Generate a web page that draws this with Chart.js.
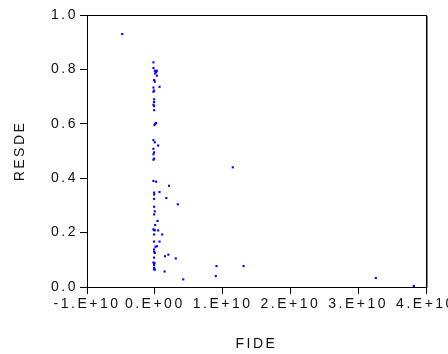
<!DOCTYPE html>
<html>
<head>
<meta charset="utf-8">
<script src="https://cdn.jsdelivr.net/npm/chart.js@4"></script>
<style>
  html, body { margin: 0; padding: 0; background: #fff; overflow: hidden; }
  #wrap { width: 448px; height: 354px; }
</style>
</head>
<body>
<div id="wrap"><canvas id="scatterChart" width="448" height="354"></canvas></div>
<script>
// FIDE vs RESDE scatter
const fide = [
  -0.48e10,
  -0.02e10, -0.02e10, 0.00e10, 0.02e10, 0.005e10, 0.03e10, 0.03e10, -0.01e10, 0.00e10, 0.07e10,
  -0.02e10, -0.01e10, -0.02e10, -0.01e10, -0.01e10, -0.02e10, -0.01e10, -0.01e10,
  0.005e10, 0.02e10, -0.005e10,
  -0.02e10, 0.00e10, 0.05e10, -0.02e10, -0.01e10, -0.02e10, -0.01e10, -0.02e10,
  1.15e10,
  -0.02e10, 0.02e10, 0.21e10, 0.07e10, -0.01e10, -0.01e10, 0.17e10, -0.01e10, 0.34e10,
  -0.01e10, 0.00e10, -0.01e10, 0.04e10, 0.005e10,
  -0.02e10, -0.01e10, 0.00e10, 0.05e10, 0.11e10, -0.01e10, -0.01e10, 0.07e10,
  0.03e10, 0.01e10, -0.01e10, -0.01e10, 0.00e10, 0.20e10, 0.15e10, 0.31e10, -0.01e10,
  -0.02e10, -0.01e10, -0.01e10, -0.005e10, -0.01e10, -0.01e10, 0.00e10,
  0.145e10, 0.42e10, 0.91e10, 0.90e10, 1.31e10, 3.26e10, 3.82e10
];
const resde = [
  0.930,
  0.826, 0.805, 0.795, 0.790, 0.785, 0.795, 0.777, 0.761, 0.755, 0.736,
  0.733, 0.722, 0.718, 0.690, 0.680, 0.670, 0.665, 0.650,
  0.600, 0.603, 0.595,
  0.540, 0.532, 0.520, 0.508, 0.495, 0.488, 0.472, 0.468,
  0.440,
  0.390, 0.387, 0.372, 0.349, 0.347, 0.340, 0.327, 0.324, 0.304,
  0.295, 0.278, 0.267, 0.243, 0.228,
  0.212, 0.210, 0.208, 0.208, 0.193, 0.193, 0.167, 0.167,
  0.150, 0.148, 0.138, 0.130, 0.125, 0.119, 0.113, 0.105, 0.108,
  0.090, 0.085, 0.080, 0.088, 0.070, 0.065, 0.064,
  0.057, 0.028, 0.077, 0.040, 0.077, 0.033, 0.004
];
const xTickLabels = ['-1.E+10', '0.E+00', '1.E+10', '2.E+10', '3.E+10', '4.E+10'];
const yTickLabels = ['0.0', '0.2', '0.4', '0.6', '0.8', '1.0'];

window.addEventListener('DOMContentLoaded', function () {
    const ctx = document.getElementById('scatterChart').getContext('2d');
    const points = fide.map((x, i) => ({ x: x, y: resde[i] }));

    // spaced-out lettering, like the original plot
    const spacing = {
        id: 'spacing',
        beforeLayout: c => { c.ctx.letterSpacing = '2.5px'; },
        beforeDraw: c => { c.ctx.letterSpacing = '2.5px'; }
    };
    // box around the plot area
    const frame = {
        id: 'frame',
        afterDatasetsDraw: c => {
            const a = c.chartArea, g = c.ctx;
            g.save();
            g.strokeStyle = '#000';
            g.lineWidth = 1;
            g.strokeRect(Math.round(a.left) + 0.5, Math.round(a.top) + 0.5,
                Math.round(a.right - a.left), Math.round(a.bottom - a.top));
            g.strokeStyle = '#888';
            g.beginPath();
            g.moveTo(Math.round(a.right) + 1.5, Math.round(a.top) + 1);
            g.lineTo(Math.round(a.right) + 1.5, Math.round(a.bottom) + 1);
            g.stroke();
            g.restore();
        }
    };

    new Chart(ctx, {
        type: 'scatter',
        data: {
            datasets: [{
                data: points,
                pointStyle: 'rect',
                pointRadius: 1.5,
                borderWidth: 0,
                backgroundColor: '#0000ff'
            }]
        },
        plugins: [spacing, frame],
        options: {
            responsive: false,
            animation: false,
            layout: { padding: { left: 0, top: 15, right: 22, bottom: 0 } },
            plugins: { legend: { display: false }, tooltip: { enabled: false } },
            scales: {
                x: {
                    type: 'linear',
                    min: -1e10, max: 4e10,
                    afterFit: s => { s.height = 67; s.paddingLeft = 0; s.paddingRight = 0; },
                    ticks: {
                        stepSize: 1e10,
                        maxRotation: 0,
                        autoSkip: false,
                        padding: 2,
                        color: '#111',
                        font: { family: 'Liberation Sans', size: 14 },
                        callback: (v) => xTickLabels[Math.round(v / 1e10) + 1]
                    },
                    grid: { drawOnChartArea: false, drawTicks: true, tickLength: 7, color: '#000' },
                    border: { display: true, color: '#000' },
                    title: {
                        display: true, text: 'FIDE', color: '#111',
                        font: { family: 'Liberation Sans', size: 14 },
                        padding: { top: 0, bottom: 1 }
                    }
                },
                y: {
                    min: 0, max: 1,
                    afterFit: s => { s.width = 87; s.paddingTop = 0; s.paddingBottom = 0; },
                    ticks: {
                        stepSize: 0.2,
                        padding: 2,
                        color: '#111',
                        font: { family: 'Liberation Sans', size: 14 },
                        callback: (v) => yTickLabels[Math.round(v * 5)]
                    },
                    grid: { drawOnChartArea: false, drawTicks: true, tickLength: 7, color: '#000' },
                    border: { display: true, color: '#000' },
                    title: {
                        display: true, text: 'RESDE', color: '#111',
                        font: { family: 'Liberation Sans', size: 14 },
                        padding: { top: 12, bottom: 0 }
                    }
                }
            }
        }
    });
});
</script>
</body>
</html>
